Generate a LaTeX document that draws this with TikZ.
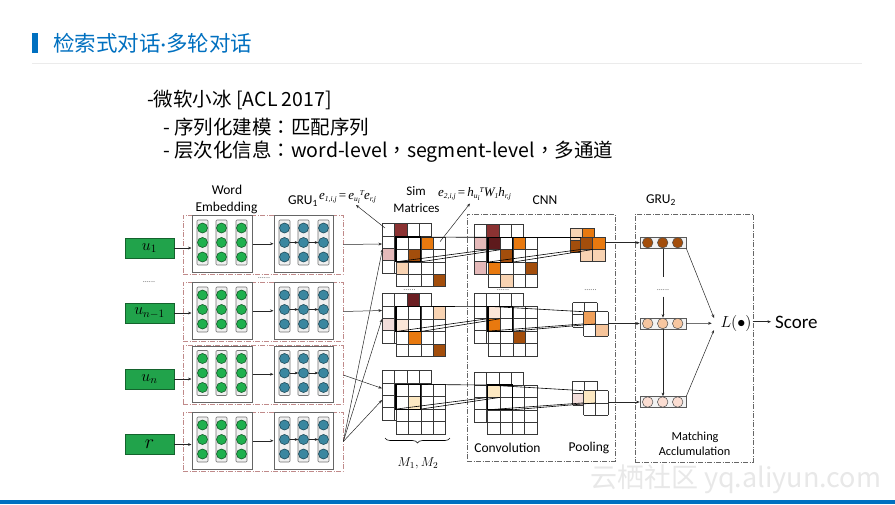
\RequirePackage{fix-cm}
\documentclass[tikz,border=0pt]{standalone}
\usepackage{fontspec}
\newfontfamily\cjk{Noto Sans CJK SC}
\newfontfamily\cjktc{Noto Sans CJK TC}
\newfontfamily\lblf{Carlito}
\newfontfamily\tms{Liberation Serif}
\usetikzlibrary{arrows.meta,decorations.pathreplacing}
\definecolor{titleblue}{HTML}{0070C0}
\definecolor{rowred}{HTML}{C08A8A}
\definecolor{ugreen}{HTML}{21A34B}
\definecolor{ugreenb}{HTML}{14632D}
\definecolor{gcirF}{HTML}{1FB04E}
\definecolor{gcirB}{HTML}{145A28}
\definecolor{tcirF}{HTML}{3A87A0}
\definecolor{tcirB}{HTML}{1D4A58}
\definecolor{dred}{HTML}{8B3232}
\definecolor{ddred}{HTML}{5E1A1C}
\definecolor{dredb}{HTML}{6B1E22}
\definecolor{brwn}{HTML}{A34E0C}
\definecolor{orng}{HTML}{E8790F}
\definecolor{lpeach}{HTML}{F8D3B2}
\definecolor{vlpeach}{HTML}{FBE6D8}
\definecolor{lpink}{HTML}{E5B9B9}
\definecolor{vlpink}{HTML}{F2DDDA}
\definecolor{lyel}{HTML}{FCE8C2}
\definecolor{morng}{HTML}{F0A05A}
\definecolor{lorng}{HTML}{F6C49A}
\definecolor{capA}{HTML}{A34E0C}
\definecolor{capB}{HTML}{F7C6A0}
\definecolor{capC}{HTML}{FBDDD2}
\newcommand{\cellmat}[6]{%
  \fill[white] (#1,#2) rectangle ++({#3*#5},{#4*#5});
  \foreach \cc/\rr/\cellcol in {#6}{\fill[\cellcol] ({#1+\cc*#5},{#2+\rr*#5}) rectangle ++(#5,#5);}
  \foreach \ii in {0,...,#3}{\draw[gl] ({#1+\ii*#5},#2) -- ++(0,{#4*#5});}
  \foreach \jj in {0,...,#4}{\draw[gl] (#1,{#2+\jj*#5}) -- ++({#3*#5},0);}
}
\newcommand{\winlines}[5]{%
  \draw[win] (#1,#2) rectangle ++(24.8,24.8);
  \draw[thinl] (#1,#2) -- (#3,#4);
  \draw[thinl] (#1,{#2+24.8}) -- (#3,{#4+#5});
  \draw[thinl] ({#1+24.8},{#2+24.8}) -- ({#3+#5},{#4+#5});
}
\newcommand{\fwp}[1]{{\cjktc #1}}
\newcommand{\lowr}[1]{\raisebox{-0.35ex}{\fontsize{7.5}{7.5}\selectfont #1}}
\newcommand{\upr}[1]{\raisebox{0.75ex}{\fontsize{7.5}{7.5}\selectfont #1}}
\begin{document}
\begin{tikzpicture}[x=1pt,y=-1pt,
  ar/.style={-{Stealth[length=3.5pt,width=2.8pt]}, line width=0.5pt, draw=black!85},
  gl/.style={line width=0.6pt, draw=black!78},
  win/.style={line width=1.1pt, draw=black},
  thinl/.style={line width=0.6pt, draw=black},
  lbl/.style={font=\lblf\fontsize{13.5}{14}\selectfont, inner sep=0},
  eqn/.style={anchor=west, inner sep=0, font=\tms\itshape\fontsize{13}{13}\selectfont},
  rowbox/.style={draw=rowred, line width=0.6pt, dash pattern=on 5pt off 1.5pt on 1pt off 1.5pt, minimum width=160pt, minimum height=59pt, inner sep=0},
  embbox/.style={draw=black!60, line width=1pt, minimum width=60pt, minimum height=56.5pt, inner sep=0, fill=white},
  grubox/.style={embbox, minimum width=59pt},
  ubox/.style={draw=ugreenb, fill=ugreen, line width=0.8pt, minimum width=49pt, minimum height=20pt, inner sep=0, font=\fontsize{16}{16}\selectfont},
  colrect/.style={draw=black!55, line width=0.6pt, fill=black!6, rounded corners=1pt},
  gcirc/.style={circle, draw=gcirB, fill=gcirF, line width=0.6pt, minimum size=10pt, inner sep=0},
  tcirc/.style={circle, draw=tcirB, fill=tcirF, line width=0.6pt, minimum size=10pt, inner sep=0},
  cnnbox/.style={draw=black!60, line width=0.7pt, dash pattern=on 5pt off 1.5pt on 1pt off 1.5pt},
  caps/.style={draw=black!65, line width=0.7pt, fill=black!5, minimum width=46pt, minimum height=11pt, inner sep=0},
  ccirc/.style={circle, draw=black!70, line width=0.5pt, minimum size=10.5pt, inner sep=0},
  dotsn/.style={font=\lblf\fontsize{8}{8}\selectfont, inner sep=0, text=black!60},
  body/.style={anchor=west, inner sep=0, font=\cjk\fontsize{19.5}{20}\selectfont}
]
\useasboundingbox (0,0) rectangle (895,504);
\fill[white] (0,0) rectangle (895,504);
% header
\fill[titleblue] (32,32.5) rectangle (38,52.5);
\node[anchor=west, inner sep=0, text=titleblue, font=\cjk\fontsize{21.5}{22}\selectfont] (title) at (53,43) {检索式对话{\lblf·}多轮对话};
\draw[draw=black!8, line width=1pt] (32,63.5) -- (862,63.5);
\node[body] (l1) at (147,100) {-微软小冰 [ACL 2017]};
\node[body] (l2) at (163,127) {- 序列化建模\fwp{：}匹配序列};
\node[body] (l3) at (163,152) {- 层次化信息\fwp{：}word-level\fwp{，}segment-level\fwp{，}多通道};
% bottom bar and watermark
\fill[titleblue] (0,499.5) rectangle (895,504);
\node[anchor=west, inner sep=0, text=black!9, font=\cjk\fontsize{27}{27}\selectfont] (wm) at (590,479) {云栖社区 yq.aliyun.com};
% big dashed boxes
\node[cnnbox, minimum width=148pt, minimum height=247pt, inner sep=0] (cnnb) at (541,337.5) {};
\node[cnnbox, minimum width=118pt, minimum height=248pt, inner sep=0] (grub) at (694,338) {};
% labels
\node[lbl] (wordl) at (227,190) {Word};
\node[lbl] (embl) at (226.5,207.5) {Embedding};
\node[lbl] (gru1l) at (303,201) {GRU\textsubscript{1}};
\node[eqn] (eq1) at (319,197) {e\lowr{1,i,j}\,{\upshape=}\,e\lowr{u\lowr{i}}\upr{T}e\lowr{r,j}};
\node[lbl, font=\lblf\fontsize{13}{14}\selectfont] (siml) at (416,191.5) {Sim};
\node[lbl, font=\lblf\fontsize{13}{14}\selectfont] (matl) at (416.5,208) {Matrices};
\node[eqn] (eq2) at (438,194) {e\lowr{2,i,j}\,{\upshape=}\,h\lowr{u\lowr{i}}\upr{T}W\lowr{1}h\lowr{r,j}};
\node[lbl] (cnnl) at (545,200) {CNN};
\node[lbl] (gru2l) at (661,200) {GRU\textsubscript{2}};
\node[lbl] (convl) at (507.5,448) {Convolution};
\node[lbl] (pooll) at (589,448) {Pooling};
\node[lbl, font=\lblf\fontsize{12.3}{13}\selectfont] (matchl) at (695,437) {Matching};
\node[lbl, font=\lblf\fontsize{12.3}{13}\selectfont] (accl) at (694.5,451.5) {Acclumulation};
% rows
\foreach \rc/\k/\gy/\lab in {244.5/1/248/{$u_1$}, 311.5/2/313/{$u_{n-1}$}, 375/3/379/{$u_n$}, 441.5/4/444.5/{\fontsize{20}{20}\selectfont$r$}}{
  \node[rowbox] (r\k) at (263,\rc) {};
  \node[embbox] (e\k) at (222,\rc-0.75) {};
  \node[grubox] (g\k) at (303.5,\rc-0.75) {};
  \node[ubox] (u\k) at (149.5,\gy) {\lab};
  \foreach \cx [count=\ci] in {202.5,221.5,241.5}{
    \draw[colrect] (\cx-5.5,\rc-24.5) rectangle (\cx+5.5,\rc+20.5);
    \foreach \dy [count=\cj] in {-14.5,0,14.5}{\node[gcirc] (ec-\k-\ci-\cj) at (\cx,\rc-2+\dy) {};}
  }
  \foreach \cx [count=\ci] in {284.5,303.5,323.5}{
    \draw[colrect] (\cx-5.5,\rc-24.5) rectangle (\cx+5.5,\rc+20.5);
    \foreach \dy [count=\cj] in {-14.5,0,14.5}{\node[tcirc] (tc-\k-\ci-\cj) at (\cx,\rc-2+\dy) {};}
  }
  \draw[ar] (tc-\k-1-2) -- (tc-\k-2-2);
  \draw[ar] (tc-\k-2-2) -- (tc-\k-3-2);
  \draw[ar] (u\k.east) -- (u\k.east -| e\k.west);
  \draw[ar] (e\k.east) -- (g\k.west);
}
\node[dotsn] (ldots) at (149,282) {......};
\node[dotsn] (mdots) at (264,278.5) {......};
% sim matrices, conv, pooling
\cellmat{382}{223.5}{4}{4}{12.4}{1/0/dred,0/2/lpink}
\cellmat{396}{237}{4}{4}{12.4}{2/0/orng,1/1/brwn,0/2/lpeach,3/3/brwn}
\cellmat{474}{224.5}{4}{4}{12.4}{1/0/dred,0/1/lpink,0/3/lpink}
\cellmat{488}{237.3}{4}{4}{12.4}{0/0/ddred,2/0/orng,1/1/brwn,0/2/orng,3/2/brwn,1/3/lpeach}
\cellmat{570}{228}{2}{2}{12.2}{0/0/lpeach,1/0/orng,0/1/brwn}
\cellmat{580.5}{237.3}{2}{2}{12.2}{0/0/brwn,1/0/orng,0/1/lpeach,1/1/lpeach}
\cellmat{382}{293.5}{4}{4}{12.4}{2/0/dredb,0/2/vlpink}
\cellmat{396}{306.7}{4}{4}{12.4}{3/0/lpeach,0/1/vlpeach,1/2/orng,3/3/brwn}
\cellmat{474}{293.5}{4}{4}{12.4}{0/0/white}
\cellmat{488}{306.3}{4}{4}{12.4}{0/0/vlpeach,0/1/orng,2/2/brwn}
\cellmat{572.5}{302.5}{2}{2}{12.2}{0/0/white}
\cellmat{583.5}{311.7}{2}{2}{12.2}{0/0/morng,1/1/lorng}
\cellmat{382}{370.5}{4}{4}{12.4}{0/0/white}
\cellmat{396}{384.3}{4}{4}{12.4}{1/1/lyel}
\cellmat{474}{372.5}{4}{4}{12.4}{0/0/white}
\cellmat{487.5}{385}{4}{4}{12.4}{0/0/lyel}
\cellmat{572.5}{381}{2}{2}{12.2}{0/1/vlpink}
\cellmat{583.5}{390.7}{2}{2}{12.2}{0/0/lyel}
\winlines{396}{237}{488}{237.3}{12.4}
\winlines{488}{237.3}{580.5}{237.3}{12.2}
\winlines{396}{306.7}{488}{306.3}{12.4}
\winlines{488}{306.3}{583.5}{311.7}{12.2}
\winlines{396}{384.3}{487.5}{385}{12.4}
\winlines{487.5}{385}{583.5}{390.7}{12.2}
\node[dotsn] (sdots) at (409.5,290) {......};
\node[dotsn] (cdots) at (503,290) {......};
\node[dotsn] (pdots) at (590.5,290) {......};
% arrows into sim matrices
\coordinate (s1a) at (382,244);
\coordinate (s1b) at (382.5,249);
\coordinate (s2a) at (382,310.5);
\coordinate (s2b) at (382,319);
\coordinate (s3a) at (382,388.3);
\coordinate (s3b) at (382,400);
\draw[ar] (r1.east) -- (s1a);
\draw[ar] (r2.east) -- (s2a);
\draw[ar] (r3.east) -- (s3a);
\draw[ar] (r4.east) -- (s1b);
\draw[ar] (r4.east) -- (s2b);
\draw[ar] (r4.east) -- (s3b);
% equation pointers
\coordinate (eq1p) at (385,228);
\coordinate (eq1t) at (356,205);
\draw[ar] (eq1p) -- (eq1t);
\coordinate (eq2p) at (440,241.7);
\coordinate (eq2t) at (470,203.5);
\draw[ar] (eq2p) -- (eq2t);
% brace
\coordinate (bl) at (385,438);
\coordinate (br) at (450,438);
\draw[line width=0.6pt, decorate, decoration={brace, amplitude=5pt, mirror}] (bl) -- (br);
\node[inner sep=0, font=\fontsize{13}{13}\selectfont] (ml) at (418,463) {$M_1,M_2$};
% GRU2 capsules
\node[caps] (c1) at (663,242.7) {};
\node[caps] (c2) at (663,323.5) {};
\node[caps] (c3) at (663,402) {};
\foreach \cn/\cf in {1/capA,2/capB,3/capC}{
  \foreach \xx [count=\q] in {647.7,662.7,677.7}{\node[ccirc, fill=\cf] (cc-\cn-\q) at (\xx,0 |- c\cn) {};}
}
\coordinate (v1e) at (663,276.7);
\coordinate (v2s) at (663,296.7);
\draw[line width=0.5pt, draw=black!85] (c1.south) -- (v1e);
\node[dotsn] (gdots) at (663,290) {......};
\draw[ar] (v2s) -- (c2.north);
\draw[ar] (c2.south) -- (c3.north);
\coordinate (p1o) at (605,242.7);
\coordinate (p2o) at (608,323.5);
\coordinate (p3o) at (608,402);
\draw[ar] (p1o) -- (c1.west);
\draw[ar] (p2o) -- (c2.west);
\draw[ar] (p3o) -- (c3.west);
% L and score
\node[inner sep=0, font=\fontsize{16}{16}\selectfont] (L) at (736,323) {$L(\bullet)$};
\node[anchor=west, inner sep=0, font=\lblf\fontsize{19}{19}\selectfont] (score) at (775,322) {Score};
\coordinate (li1) at (714,318);
\coordinate (li2) at (711.7,323.3);
\coordinate (li3) at (714,330);
\draw[ar] (c1.south east) -- (li1);
\draw[ar] (c2.east) -- (li2);
\draw[ar] (c3.north east) -- (li3);
\coordinate (sa) at (752.7,321.7);
\coordinate (sb) at (771,321.7);
\draw[ar] (sa) -- (sb);
\end{tikzpicture}
\end{document}
